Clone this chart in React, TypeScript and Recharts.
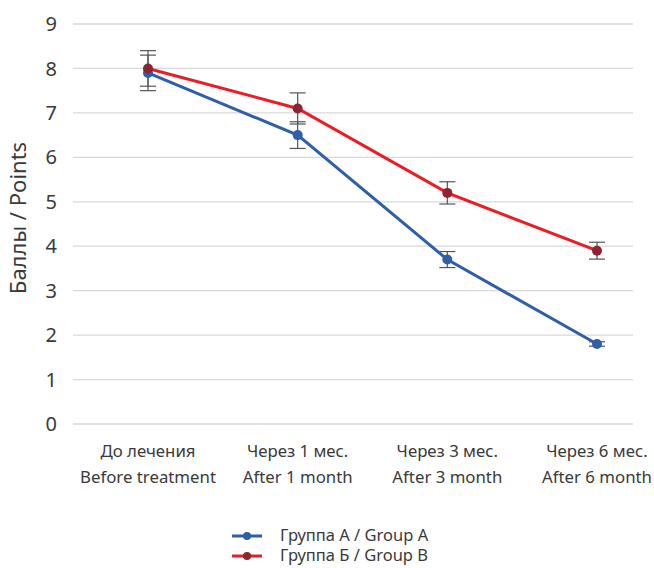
import { LineChart, Line, XAxis, YAxis, CartesianGrid, ErrorBar, Legend } from 'recharts';

const CATEGORIES_RU = ['До лечения', 'Через 1 мес.', 'Через 3 мес.', 'Через 6 мес.'];
const CATEGORIES_EN = ['Before treatment', 'After 1 month', 'After 3 month', 'After 6 month'];
const GROUP_A = [7.9, 6.5, 3.7, 1.8];
const GROUP_A_ERR = [0.4, 0.3, 0.18, 0.05];
const GROUP_B = [8.0, 7.1, 5.2, 3.9];
const GROUP_B_ERR = [0.4, 0.35, 0.25, 0.19];
const Y_TICKS = [0, 1, 2, 3, 4, 5, 6, 7, 8, 9];

const SERIES = [
  { key: 'a', name: 'Группа А / Group A', line: '#2f5fa7', dot: '#2f5fa7' },
  { key: 'b', name: 'Группа Б / Group B', line: '#ec1c24', dot: '#8c2431' },
];

const data = CATEGORIES_RU.map((ru, i) => ({
  cat: ru,
  a: GROUP_A[i],
  aErr: GROUP_A_ERR[i],
  b: GROUP_B[i],
  bErr: GROUP_B_ERR[i],
}));

const FONT = '"Noto Sans", sans-serif';
const TEXT = '#3a3a3a';

function CatTick({ x, y, payload, index }: any) {
  return (
    <text x={x} y={y} textAnchor="middle" fontFamily={FONT} fontSize={16.8} fill={TEXT}>
      <tspan x={x} dy={25}>{payload.value}</tspan>
      <tspan x={x} dy={26}>{CATEGORIES_EN[index]}</tspan>
    </text>
  );
}

function YLabel({ viewBox }: any) {
  const cy = viewBox.y + viewBox.height / 2 - 6;
  return (
    <text x={26} y={cy} transform={`rotate(-90 26 ${cy})`} textAnchor="middle" fontFamily={FONT} fontSize={22} fill={TEXT}>
      Баллы / Points
    </text>
  );
}

function LegendBox() {
  return (
    <div style={{ fontFamily: FONT, fontSize: 16.5, color: TEXT, width: 654, height: 40 }}>
      {SERIES.map((s) => (
        <div key={s.key} style={{ display: 'flex', alignItems: 'center', height: 20, paddingLeft: 232 }}>
          <svg width={30} height={10} style={{ marginRight: 18 }}>
            <line x1={0} y1={5} x2={30} y2={5} stroke={s.line} strokeWidth={3} />
            <circle cx={15} cy={5} r={4} fill={s.dot} />
          </svg>
          <svg width={200} height={20} style={{ overflow: 'visible' }}>
            <text x={0} y={15} fontFamily={FONT} fontSize={16.5} fill={TEXT}>{s.name}</text>
          </svg>
        </div>
      ))}
    </div>
  );
}

export default function App() {
  return (
    <div style={{ position: 'fixed', top: 0, left: 0, width: 654, height: 568, overflow: 'hidden', background: '#fff' }}>
      <LineChart width={654} height={568} data={data} margin={{ top: 24, right: 21, bottom: 44, left: 0 }}>
        <CartesianGrid vertical={false} stroke="#d9d9d9" strokeWidth={1.3} />
        <XAxis
          dataKey="cat"
          scale="point"
          padding={{ left: 75, right: 36 }}
          axisLine={false}
          tickLine={false}
          height={60}
          interval={0}
          tick={<CatTick />}
        />
        <YAxis
          type="number"
          domain={[0, 9]}
          ticks={Y_TICKS}
          width={73}
          axisLine={false}
          tickLine={false}
          tickMargin={10}
          tick={{ fontFamily: FONT, fontSize: 20, fill: TEXT }}
          label={<YLabel />}
        />
        <Legend verticalAlign="bottom" content={<LegendBox />} wrapperStyle={{ top: 526, left: 0, bottom: 'auto' }} />
        {SERIES.map((s) => (
          <Line
            key={s.key}
            dataKey={s.key}
            name={s.name}
            stroke={s.line}
            strokeWidth={3}
            dot={{ r: 5, fill: s.dot, stroke: s.dot, strokeWidth: 0 }}
            isAnimationActive={false}
          >
            <ErrorBar dataKey={`${s.key}Err`} width={8} stroke="#555" strokeWidth={1.2} direction="y" />
          </Line>
        ))}
      </LineChart>
    </div>
  );
}
